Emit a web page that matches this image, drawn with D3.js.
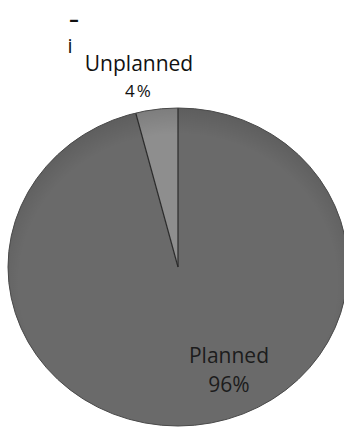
<!DOCTYPE html>
<html>
<head>
<meta charset="utf-8">
<script src="https://cdn.jsdelivr.net/npm/d3@7"></script>
<style>
  body { margin: 0; background: #fff; }
  svg { display: block; }
</style>
</head>
<body>
<div id="chart"></div>
<script>
const categories = ["Planned", "Unplanned"];
const values = [96, 4];
const labels = ["96%", "4%"];

const width = 344, height = 430;
const cx = 178, cy = 267;
const rx = 170, ry = 159;

const svg = d3.select("#chart").append("svg").attr("width", width).attr("height", height);

// unplanned slice sits just left of 12 o'clock, planned takes the rest
const pie = d3.pie().sort(null).value(d => d.value)
  .startAngle(0).endAngle(2 * Math.PI);
const data = categories.map((c, i) => ({ name: c, value: values[i], label: labels[i] }));
const arcs = pie(data);

const fills = { Planned: "#6a6a6a", Unplanned: "#8e8e8e" };

const defs = svg.append("defs");
const grad = defs.append("radialGradient").attr("id", "shade")
  .attr("cx", "50%").attr("cy", "55%").attr("r", "55%");
grad.append("stop").attr("offset", "85%").attr("stop-color", "#000").attr("stop-opacity", 0);
grad.append("stop").attr("offset", "100%").attr("stop-color", "#000").attr("stop-opacity", 0.12);

const g = svg.append("g").attr("transform", `translate(${cx},${cy}) scale(${rx / 100},${ry / 100})`);
const arc = d3.arc().innerRadius(0).outerRadius(100);

g.selectAll("path.slice").data(arcs).join("path")
  .attr("class", "slice")
  .attr("d", arc)
  .attr("fill", d => fills[d.data.name]);

g.append("circle").attr("r", 100).attr("fill", "url(#shade)");

// dark dividing lines between slices
const lineAngles = [arcs[1].startAngle, arcs[1].endAngle % (2 * Math.PI)];
g.selectAll("line.div").data(lineAngles).join("line")
  .attr("class", "div")
  .attr("x1", 0).attr("y1", 0)
  .attr("x2", a => 100 * Math.sin(a))
  .attr("y2", a => -100 * Math.cos(a))
  .attr("stroke", "#2a2a2a")
  .attr("stroke-width", 1.2)
  .attr("vector-effect", "non-scaling-stroke");

g.append("ellipse").attr("rx", 100).attr("ry", 100)
  .attr("fill", "none").attr("stroke", "#4a4a4a").attr("stroke-width", 1)
  .attr("vector-effect", "non-scaling-stroke");

const font = "'Open Sans', 'Liberation Sans', sans-serif";

// stray marks at top left
svg.append("text").attr("x", 74).attr("y", 26).attr("text-anchor", "middle")
  .attr("font-family", font).attr("font-size", 19).attr("font-weight", "bold")
  .attr("fill", "#111").text("–");
svg.append("text").attr("x", 70).attr("y", 53).attr("text-anchor", "middle")
  .attr("font-family", font).attr("font-size", 20).attr("fill", "#111").text("i");

// outside label for Unplanned
svg.append("text").attr("x", 139).attr("y", 71).attr("text-anchor", "middle")
  .attr("font-family", font).attr("font-size", 21).attr("fill", "#111").text(categories[1]);
svg.append("text").attr("x", 139).attr("y", 97).attr("text-anchor", "middle")
  .attr("font-family", font).attr("font-size", 17).attr("fill", "#111")
  .attr("letter-spacing", 2).text(labels[1]);

// inside label for Planned
svg.append("text").attr("x", 229).attr("y", 363).attr("text-anchor", "middle")
  .attr("font-family", font).attr("font-size", 21).attr("fill", "#1c1c1c").text(categories[0]);
svg.append("text").attr("x", 229).attr("y", 392).attr("text-anchor", "middle")
  .attr("font-family", font).attr("font-size", 21).attr("fill", "#1c1c1c").text(labels[0]);
</script>
</body>
</html>
